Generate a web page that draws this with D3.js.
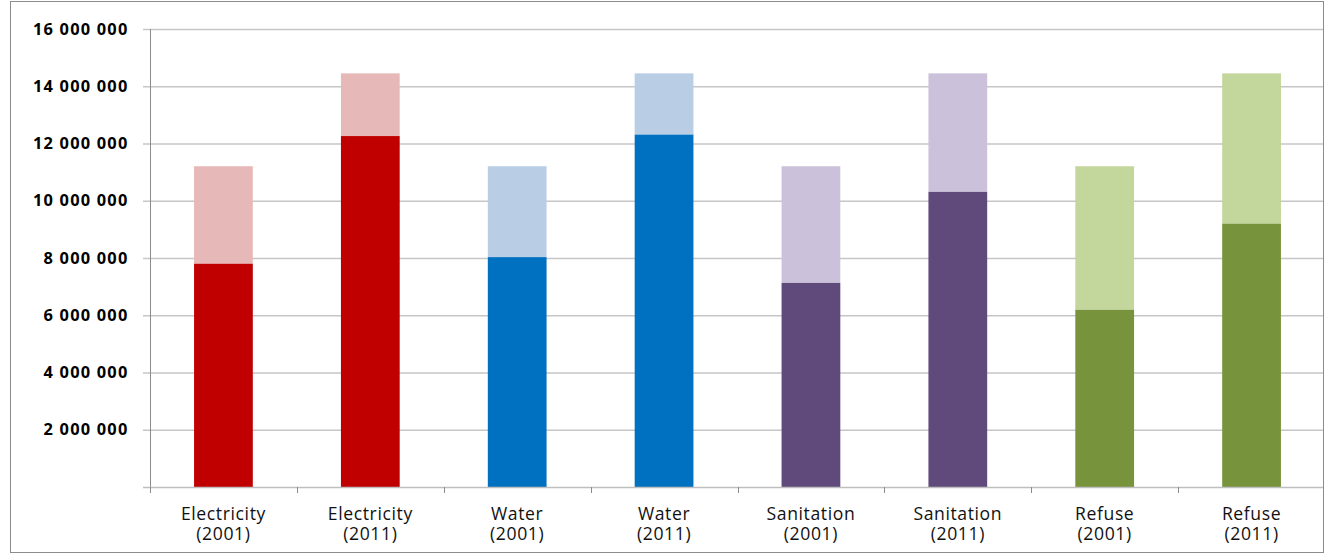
<!DOCTYPE html>
<html>
<head>
<meta charset="utf-8">
<script src="https://cdn.jsdelivr.net/npm/d3@7"></script>
<style>
  body { margin: 0; background: #fff; }
  svg { display: block; }
  .ylab { font-family: "Open Sans", "Liberation Sans", sans-serif; font-weight: bold; font-size: 16.4px; letter-spacing: 1.2px; fill: #000; }
  .xlab { font-family: "Open Sans", "Liberation Sans", sans-serif; font-size: 17.6px; letter-spacing: 0.6px; fill: #111; }
</style>
</head>
<body>
<svg id="chart" width="1326" height="555"></svg>
<script>
// categories (two-line labels)
const categories = ["Electricity (2001)", "Electricity (2011)", "Water (2001)", "Water (2011)",
                    "Sanitation (2001)", "Sanitation (2011)", "Refuse (2001)", "Refuse (2011)"];
// households with access (dark part)
const accessValues = [7800000, 12260000, 8030000, 12310000, 7130000, 10310000, 6190000, 9200000];
// total households (bar top)
const totalValues = [11205705, 14450161, 11205705, 14450161, 11205705, 14450161, 11205705, 14450161];
const yTicks = [2000000, 4000000, 6000000, 8000000, 10000000, 12000000, 14000000, 16000000];

const darkColors = ["#C00000", "#C00000", "#0070C0", "#0070C0", "#604A7B", "#604A7B", "#77933C", "#77933C"];
const lightColors = ["#E6B9B8", "#E6B9B8", "#B9CDE5", "#B9CDE5", "#CCC1DA", "#CCC1DA", "#C3D69B", "#C3D69B"];

const svg = d3.select("#chart");

// outer frame
svg.append("rect")
    .attr("x", 10.5).attr("y", 1.5)
    .attr("width", 1313).attr("height", 551)
    .attr("fill", "none").attr("stroke", "#8c8c8c");

const plotLeft = 150, plotRight = 1325, plotTop = 29, plotBottom = 487;

const x = d3.scaleBand().domain(categories).range([plotLeft, plotRight]).paddingInner(0.6).paddingOuter(0.3);
const y = d3.scaleLinear().domain([0, 16000000]).range([plotBottom, plotTop]);

// gridlines
svg.append("g")
    .selectAll("line")
    .data(yTicks)
    .enter()
    .append("line")
    .attr("x1", plotLeft - 7).attr("x2", 1323)
    .attr("y1", d => y(d) + 0.5).attr("y2", d => y(d) + 0.5)
    .attr("stroke", "#c6c6c6").attr("stroke-width", 1.5);

// y labels
svg.append("g")
    .selectAll("text")
    .data(yTicks)
    .enter()
    .append("text")
    .attr("class", "ylab")
    .attr("x", 128.5)
    .attr("y", d => y(d))
    .attr("dy", "0.35em")
    .attr("text-anchor", "end")
    .text(d => d3.format(",")(d).replace(/,/g, " "));

// bars
const rows = categories.map((c, i) => ({name: c, access: accessValues[i], total: totalValues[i], i: i}));
const bars = svg.append("g").selectAll("g").data(rows).enter().append("g");

bars.append("rect")
    .attr("x", d => x(d.name))
    .attr("width", x.bandwidth())
    .attr("y", d => y(d.total))
    .attr("height", d => y(d.access) - y(d.total))
    .attr("fill", d => lightColors[d.i]);

bars.append("rect")
    .attr("x", d => x(d.name))
    .attr("width", x.bandwidth())
    .attr("y", d => y(d.access))
    .attr("height", d => plotBottom - y(d.access))
    .attr("fill", d => darkColors[d.i]);

// y axis line
svg.append("line")
    .attr("x1", plotLeft + 0.5).attr("x2", plotLeft + 0.5)
    .attr("y1", plotTop).attr("y2", plotBottom)
    .attr("stroke", "#8c8c8c");

// x axis line + ticks
svg.append("line")
    .attr("x1", plotLeft - 7).attr("x2", 1323)
    .attr("y1", plotBottom + 0.5).attr("y2", plotBottom + 0.5)
    .attr("stroke", "#bfbfbf").attr("stroke-width", 1.5);

const step = x.step();
const tickXs = d3.range(categories.length).map(i => plotLeft + i * step);
svg.append("g").selectAll("line").data(tickXs).enter().append("line")
    .attr("x1", d => Math.round(d) + 0.5).attr("x2", d => Math.round(d) + 0.5)
    .attr("y1", plotBottom).attr("y2", plotBottom + 6)
    .attr("stroke", "#8c8c8c");

// category labels
const labels = svg.append("g").selectAll("text").data(categories).enter().append("text")
    .attr("class", "xlab")
    .attr("text-anchor", "middle")
    .attr("x", d => x(d) + x.bandwidth() / 2)
    .attr("y", 520);
labels.append("tspan")
    .attr("x", d => x(d) + x.bandwidth() / 2)
    .text(d => d.split(" ")[0]);
labels.append("tspan")
    .attr("x", d => x(d) + x.bandwidth() / 2)
    .attr("dy", 19.5)
    .text(d => d.split(" ")[1]);
</script>
</body>
</html>
